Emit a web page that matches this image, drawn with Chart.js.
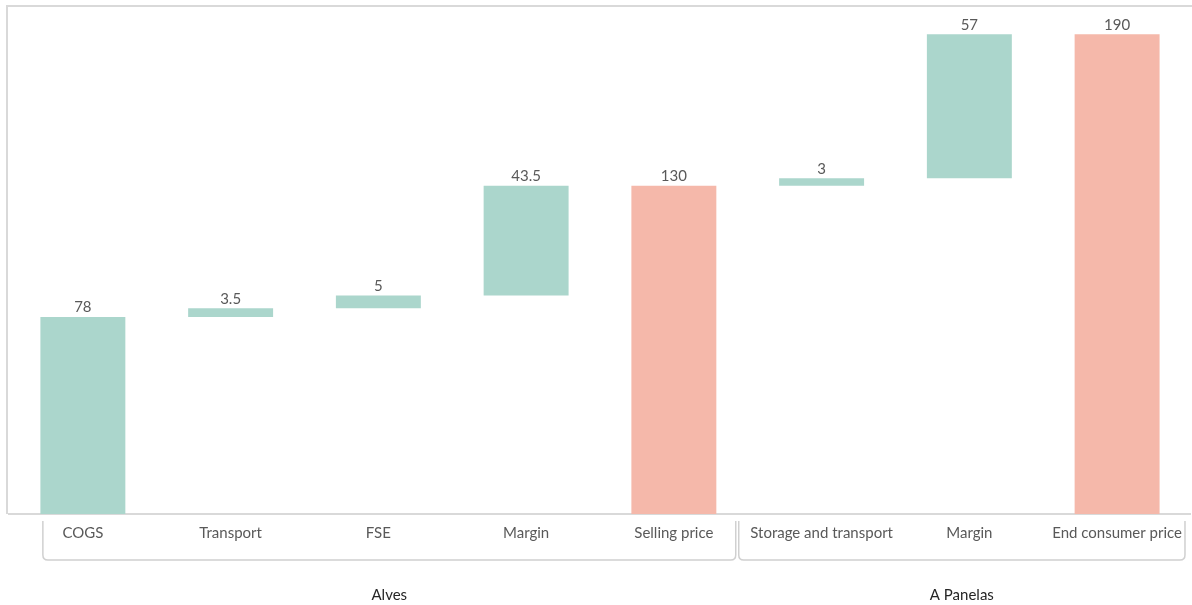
<!DOCTYPE html>
<html>
<head>
<meta charset="utf-8">
<script src="https://cdn.jsdelivr.net/npm/chart.js@4"></script>
<style>
  html, body { margin: 0; padding: 0; background: #fff; }
  #wrap { position: relative; width: 1192px; height: 605px; }
</style>
</head>
<body>
<div id="wrap"><canvas id="grafica"></canvas></div>
<script>
// Datos de la cascada
var categories = ['COGS', 'Transport', 'FSE', 'Margin', 'Selling price', 'Storage and transport', 'Margin', 'End consumer price'];
var steps = [78, 3.5, 5, 43.5, 130, 3, 57, 190];
var isTotal = [false, false, false, false, true, false, false, true];
var groups = ['Alves', 'A Panelas'];
var groupSizes = [5, 3];

var green = '#abd6cc';
var salmon = '#f5b8aa';

// construir barras flotantes [inicio, fin]
var ranges = [];
var running = 0;
for (var i = 0; i < steps.length; i++) {
  if (isTotal[i]) {
    ranges.push([0, steps[i]]);
    running = steps[i];
  } else {
    ranges.push([running, running + steps[i]]);
    running += steps[i];
  }
}

// etiquetas de valor encima de cada barra
var valueLabels = {
  id: 'valueLabels',
  afterDatasetsDraw: function(chart) {
    var ctx = chart.ctx;
    var meta = chart.getDatasetMeta(0);
    ctx.save();
    ctx.font = '15px Lato';
    ctx.fillStyle = '#595959';
    ctx.textAlign = 'center';
    ctx.textBaseline = 'bottom';
    meta.data.forEach(function(bar, i) {
      var top = Math.min(bar.y, bar.base);
      ctx.fillText(String(steps[i]), bar.x, top - 2);
    });
    ctx.restore();
  }
};

// marco y categorías agrupadas
var groupAxis = {
  id: 'groupAxis',
  afterDraw: function(chart) {
    var ctx = chart.ctx;
    var x = chart.scales.x;
    var area = chart.chartArea;
    var half = (x.getPixelForValue(1) - x.getPixelForValue(0)) / 2;
    ctx.save();
    // marco
    ctx.strokeStyle = '#d9d9d9';
    ctx.lineWidth = 2;
    ctx.beginPath();
    ctx.moveTo(7, area.bottom);
    ctx.lineTo(7, 6);
    ctx.lineTo(chart.width, 6);
    ctx.stroke();

    var top = area.bottom + 7;
    var bottom = area.bottom + 46;
    var r = 5;
    var start = 0;
    ctx.lineWidth = 1.5;
    for (var g = 0; g < groups.length; g++) {
      var end = start + groupSizes[g] - 1;
      var left = g === 0 ? x.getPixelForValue(start) - 40 : x.getPixelForValue(start) - half - 9;
      var right = x.getPixelForValue(end) + half - (g === groups.length - 1 ? 6 : 12);
      ctx.strokeStyle = '#d0d0d0';
      ctx.beginPath();
      ctx.moveTo(left, top);
      ctx.lineTo(left, bottom - r);
      ctx.quadraticCurveTo(left, bottom, left + r, bottom);
      ctx.lineTo(right - r, bottom);
      ctx.quadraticCurveTo(right, bottom, right, bottom - r);
      ctx.lineTo(right, top);
      ctx.stroke();

      ctx.font = '15px Lato';
      ctx.fillStyle = '#262626';
      ctx.textAlign = 'center';
      ctx.textBaseline = 'middle';
      ctx.fillText(groups[g], (left + right) / 2, area.bottom + 81);
      start = end + 1;
    }
    ctx.restore();
  }
};

var ctx = document.getElementById('grafica').getContext('2d');
var myChart = new Chart(ctx, {
  type: 'bar',
  data: {
    labels: categories,
    datasets: [{
      data: ranges,
      backgroundColor: isTotal.map(function(t) { return t ? salmon : green; }),
      borderWidth: 0,
      categoryPercentage: 1,
      barPercentage: 0.575
    }]
  },
  options: {
    responsive: true,
    maintainAspectRatio: false,
    animation: false,
    layout: { padding: { left: 9, right: 0, top: 9, bottom: 53 } },
    plugins: {
      legend: { display: false },
      tooltip: { enabled: false }
    },
    scales: {
      x: {
        grid: { display: false, drawTicks: false },
        border: { display: true, color: '#d9d9d9', width: 2 },
        ticks: {
          color: '#595959',
          font: { family: 'Lato', size: 15 },
          padding: 10,
          maxRotation: 0,
          autoSkip: false
        }
      },
      y: {
        display: false,
        min: 0,
        max: 200
      }
    }
  },
  plugins: [valueLabels, groupAxis]
});
</script>
</body>
</html>
